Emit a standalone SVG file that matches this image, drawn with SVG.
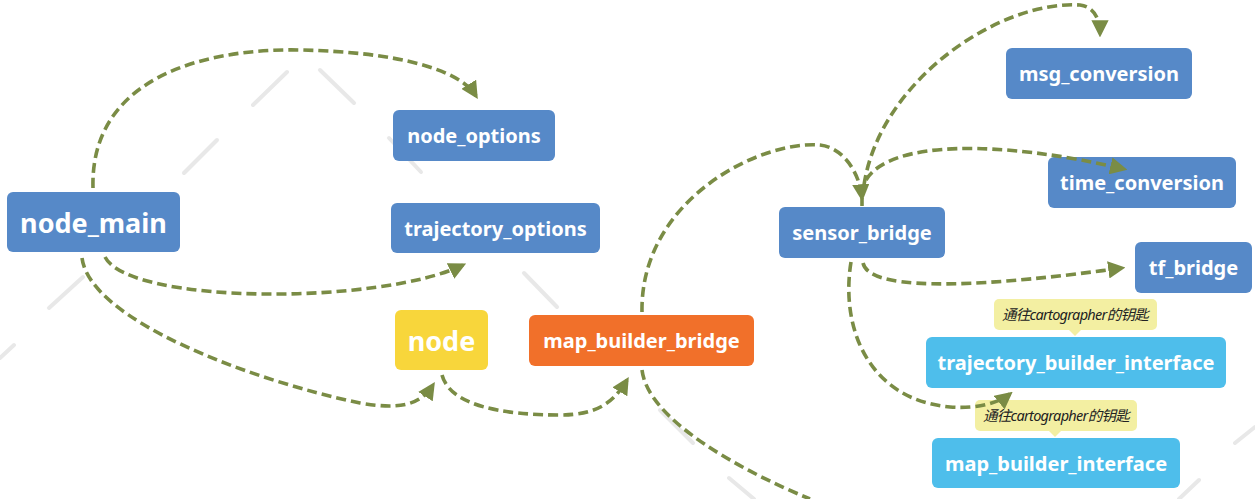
<svg xmlns="http://www.w3.org/2000/svg" width="1255" height="499" viewBox="0 0 1255 499">
<style>
.bg{stroke:#E8E8E8;stroke-width:4;stroke-linecap:round;fill:none}
.box{stroke:none}
.blue{fill:#5689C8}
.lblue{fill:#4EBEEB}
.orange{fill:#F1702A}
.yellow{fill:#F8D63B}
.t{font-family:"Noto Sans","Open Sans","Noto Sans CJK SC",sans-serif;font-weight:bold;fill:#FFFFFF;text-anchor:middle;dominant-baseline:central}
.tip{fill:#F3EFA2}
.tt{font-family:"Noto Sans","Noto Sans CJK SC",sans-serif;font-style:italic;font-size:14.5px;fill:#222;text-anchor:middle;dominant-baseline:central;letter-spacing:-0.7px}
.c{fill:none;stroke:#7A8C45;stroke-width:3.6;stroke-dasharray:10 5}
</style>
<defs>
<marker id="ah" viewBox="0 0 10 10" refX="8" refY="5" markerWidth="4.8" markerHeight="4.8" orient="auto" markerUnits="strokeWidth">
<path d="M0,0 L10,5 L0,10 Z" fill="#7A8C45"/>
</marker>
</defs>
<rect width="1255" height="499" fill="#FFFFFF"/>
<g id="background">
<line class="bg" x1="253" y1="105" x2="287" y2="72"/>
<line class="bg" x1="320" y1="70" x2="354" y2="103"/>
<line class="bg" x1="184" y1="173" x2="217" y2="140"/>
<line class="bg" x1="389" y1="138" x2="421" y2="172"/>
<line class="bg" x1="49" y1="308" x2="83" y2="277"/>
<line class="bg" x1="0" y1="358" x2="14" y2="345"/>
<line class="bg" x1="524" y1="273" x2="557" y2="307"/>
<line class="bg" x1="660" y1="410" x2="693" y2="443"/>
<line class="bg" x1="729" y1="478" x2="754" y2="499"/>
<line class="bg" x1="1179" y1="499" x2="1199" y2="480"/>
<line class="bg" x1="1235" y1="443" x2="1255" y2="427"/>
</g>
<g id="node_main"><rect class="box blue" x="7" y="192" width="173" height="60" rx="6"/><text class="t" x="93.5" y="222" font-size="27">node_main</text></g>
<g id="node_options"><rect class="box blue" x="393" y="110" width="162" height="51" rx="6"/><text class="t" x="474" y="135" font-size="20">node_options</text></g>
<g id="trajectory_options"><rect class="box blue" x="391" y="203" width="209" height="50" rx="6"/><text class="t" x="495.5" y="228" font-size="20">trajectory_options</text></g>
<g id="node"><rect class="box yellow" x="395" y="310" width="93" height="60" rx="6"/><text class="t" x="441.5" y="340" font-size="27">node</text></g>
<g id="map_builder_bridge"><rect class="box orange" x="529" y="315" width="225" height="51" rx="6"/><text class="t" x="641.5" y="340" font-size="20">map_builder_bridge</text></g>
<g id="sensor_bridge"><rect class="box blue" x="779" y="207" width="166" height="51" rx="6"/><text class="t" x="862" y="232" font-size="20">sensor_bridge</text></g>
<g id="msg_conversion"><rect class="box blue" x="1006" y="48" width="186" height="51" rx="6"/><text class="t" x="1099" y="73" font-size="20">msg_conversion</text></g>
<g id="time_conversion"><rect class="box blue" x="1048" y="157" width="188" height="51" rx="6"/><text class="t" x="1142" y="182" font-size="20">time_conversion</text></g>
<g id="tf_bridge"><rect class="box blue" x="1135" y="242" width="117" height="51" rx="6"/><text class="t" x="1193.5" y="267" font-size="20">tf_bridge</text></g>
<g id="tip1"><rect class="tip" x="994" y="299" width="163" height="31" rx="5"/><path class="tip" d="M1068,329 L1075,336 L1082,329 Z"/><text class="tt" x="1075" y="314">通往cartographer的钥匙</text></g>
<g id="trajectory_builder_interface"><rect class="box lblue" x="926" y="337" width="300" height="51" rx="6"/><text class="t" x="1076" y="362" font-size="20">trajectory_builder_interface</text></g>
<g id="tip2"><rect class="tip" x="975" y="400" width="162" height="31" rx="5"/><path class="tip" d="M1048,430 L1055,437 L1062,430 Z"/><text class="tt" x="1056" y="415">通往cartographer的钥匙</text></g>
<g id="map_builder_interface"><rect class="box lblue" x="932" y="438" width="248" height="50" rx="6"/><text class="t" x="1056" y="463" font-size="20">map_builder_interface</text></g>
<g id="connectors">
<path class="c" marker-end="url(#ah)" d="M93,188 C90,80 200,48 300,50 C400,52 460,70 476,96"/>
<path class="c" marker-end="url(#ah)" d="M105,257 C130,305 380,305 463,265"/>
<path class="c" marker-end="url(#ah)" d="M82,258 C90,320 250,380 360,403 C400,410 420,405 433,385"/>
<path class="c" marker-end="url(#ah)" d="M442,375 C450,405 500,415 560,415 C600,415 615,400 627,380"/>
<path class="c" marker-end="url(#ah)" d="M642,312 C640,200 760,140 820,145 C845,148 860,175 862,198"/>
<path class="c" d="M862,198 L862,206"/>
<path class="c" marker-end="url(#ah)" d="M864,185 C880,80 1000,0 1080,5 C1095,7 1100,20 1100,34"/>
<path class="c" marker-end="url(#ah)" d="M866,180 C890,140 1000,140 1124,169"/>
<path class="c" marker-end="url(#ah)" d="M863,263 C870,295 1000,285 1122,268"/>
<path class="c" marker-end="url(#ah)" d="M851,262 C840,330 870,400 950,407 C980,409 1000,402 1010,394"/>
<path class="c" d="M642,370 C648,420 740,470 810,499"/>
</g>
</svg>
